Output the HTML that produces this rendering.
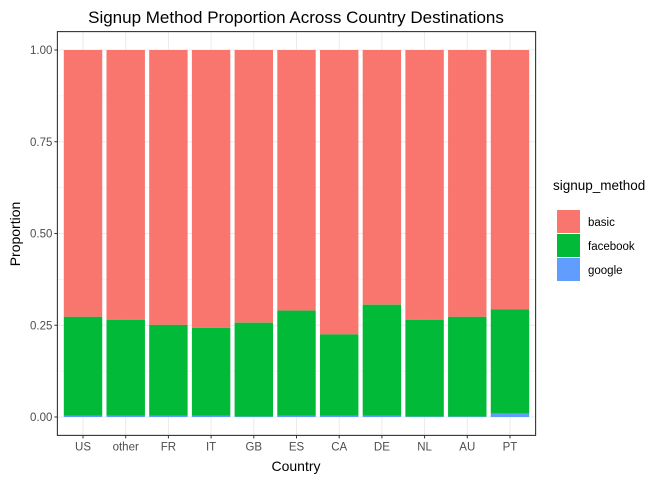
<!DOCTYPE html>
<html><head><meta charset="utf-8"><style>
body{margin:0;background:#fff;font-family:"Liberation Sans",Arial,sans-serif}
</style></head><body>
<svg id="chart" width="672" height="480" xmlns="http://www.w3.org/2000/svg">
<text x="296" y="23" text-anchor="middle" font-size="17" fill="#000">Signup Method Proportion Across Country Destinations</text>
<g id="grid"></g><g id="bars"></g><g id="axes"></g>
<text x="296" y="471" text-anchor="middle" font-size="14" fill="#000">Country</text>
<text transform="translate(20,234) rotate(-90)" text-anchor="middle" font-size="14" fill="#000">Proportion</text>
<g>
<text x="553" y="190" font-size="13.5" fill="#000">signup_method</text>
<rect x="557" y="210" width="23" height="23" fill="#F8766D"/>
<text x="588" y="226" font-size="11.5" fill="#000">basic</text>
<rect x="557" y="234" width="23" height="23" fill="#00BA38"/>
<text x="588" y="250" font-size="11.5" fill="#000">facebook</text>
<rect x="557" y="258" width="23" height="23" fill="#619CFF"/>
<text x="588" y="274" font-size="11.5" fill="#000">google</text>
</g>
</svg>
<script>
const categories=["US","other","FR","IT","GB","ES","CA","DE","NL","AU","PT"];
const google=[0.004,0.004,0.004,0.004,0.001,0.004,0.004,0.004,0.001,0.001,0.009];
const facebook=[0.269,0.261,0.247,0.239,0.256,0.286,0.221,0.302,0.264,0.272,0.284];
const yTicks=[0,0.25,0.5,0.75,1];
const yTickLabels=["0.00","0.25","0.50","0.75","1.00"];
const NS="http://www.w3.org/2000/svg";
const L=57.4,R=535.6,T=31.6,B=435.4;
const step=(R-L)/(categories.length+0.2);
const x=i=>L+step*(0.6+i);
const y=v=>417-v*367;
function mk(t,a,p){const e=document.createElementNS(NS,t);for(const k in a)e.setAttribute(k,a[k]);p.appendChild(e);return e;}
const grid=document.getElementById('grid'),bars=document.getElementById('bars'),axes=document.getElementById('axes');
for(let v=0;v<=1.0001;v+=0.125){const g=mk('line',{x1:L,x2:R,y1:y(v),y2:y(v),stroke:'#ebebeb','stroke-width':v*4%1?0.5:1},grid);}
categories.forEach((c,i)=>{const g=mk('line',{x1:x(i),x2:x(i),y1:T,y2:B,stroke:'#ebebeb','stroke-width':1},grid);});
const bw=step*0.9;
categories.forEach((c,i)=>{
 const gv=google[i],fv=facebook[i];
 const b1=mk('rect',{x:x(i)-bw/2,y:y(1),width:bw,height:y(gv+fv)-y(1),fill:'#F8766D'},bars);
 
 const b2=mk('rect',{x:x(i)-bw/2,y:y(gv+fv),width:bw,height:y(gv)-y(gv+fv),fill:'#00BA38'},bars);
 
 const b3=mk('rect',{x:x(i)-bw/2,y:y(gv),width:bw,height:y(0)-y(gv),fill:'#619CFF'},bars);
 
 const tk=mk('line',{x1:x(i),x2:x(i),y1:B,y2:B+3,stroke:'#333'},axes);
 
 const t=mk('text',{x:x(i),y:B+15,'text-anchor':'middle','font-size':11.5,fill:'#4d4d4d'},axes);t.textContent=c;
 
});
yTicks.forEach((v,i)=>{
 const tk=mk('line',{x1:L-3,x2:L,y1:y(v),y2:y(v),stroke:'#333'},axes);
 
 const t=mk('text',{x:L-5,y:y(v)+4,'text-anchor':'end','font-size':11.5,fill:'#4d4d4d'},axes);t.textContent=yTickLabels[i];
 
});
const fr=mk('rect',{x:L,y:T,width:R-L,height:B-T,fill:'none',stroke:'#333','stroke-width':1.1},axes);

</script>
</body></html>
